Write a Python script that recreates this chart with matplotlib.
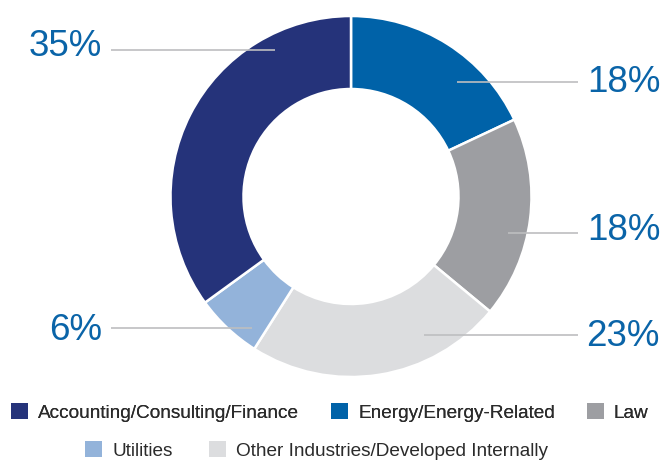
import matplotlib.pyplot as plt
from matplotlib.patches import Patch

# данные (по часовой стрелке от 12 часов)
categories = ["Energy/Energy-Related", "Law", "Other Industries/Developed Internally",
              "Utilities", "Accounting/Consulting/Finance"]
shares = [18, 18, 23, 6, 35]
colors = ["#0062A8", "#9D9EA2", "#DCDDDF", "#93B3DA", "#25337A"]
pct_labels = ["18%", "18%", "23%", "6%", "35%"]

legend_row1 = ["Accounting/Consulting/Finance", "Energy/Energy-Related", "Law"]
legend_row2 = ["Utilities", "Other Industries/Developed Internally"]

W, H = 661, 462
plt.rcParams['font.family'] = ['Liberation Sans', 'DejaVu Sans']

fig = plt.figure(figsize=(W / 100, H / 100), dpi=100)
ax = fig.add_axes([0, 0, 1, 1])
ax.axis('off')

cx, cy, r = 351, H - 196.5, 180.5
ax.pie(shares, colors=colors, startangle=90, counterclock=False,
       center=(cx, cy), radius=r,
       wedgeprops=dict(width=73, edgecolor='white', linewidth=1.8))
ax.set_xlim(0, W)
ax.set_ylim(0, H)
ax.set_aspect('equal')

# подписи и выноски: (x текста, y текста, ha, начало линии, конец линии, y линии)
label_pos = [
    (587, 83, 'left', 457, 578, 82),
    (587, 231, 'left', 508, 578, 233),
    (586, 336, 'left', 424, 578, 335),
    (102, 330, 'right', 111, 252, 328),
    (102, 47, 'right', 111, 275, 50),
]
for txt, (tx, ty, ha, x0, x1, ly) in zip(pct_labels, label_pos):
    ax.plot([x0, x1], [H - ly, H - ly], color="#BDBEC0", lw=1.2, zorder=1,
            solid_capstyle='butt')
    ax.text(tx, H - ty, txt, ha=ha, va='center', fontsize=26.5, color="#0A64A8")

color_of = dict(zip(categories, colors))
fs = 13.7
px = fs * 100 / 72


def make_legend(names, x, y, gap):
    handles = [Patch(facecolor=color_of[n], edgecolor='none') for n in names]
    leg = fig.legend(handles, names, loc='center left', bbox_to_anchor=(x / W, 1 - y / H),
                     ncol=len(names), frameon=False, fontsize=fs,
                     handlelength=17 / px, handleheight=17 / px,
                     handletextpad=10 / px, columnspacing=gap / px,
                     borderpad=0, borderaxespad=0, labelcolor="#2B2B2B")
    return leg


leg1 = make_legend(legend_row1, 11, 412.5, 32)
fig.add_artist(leg1)
make_legend(legend_row2, 85, 450.5, 37)

fig.savefig("out.png", dpi=100)
